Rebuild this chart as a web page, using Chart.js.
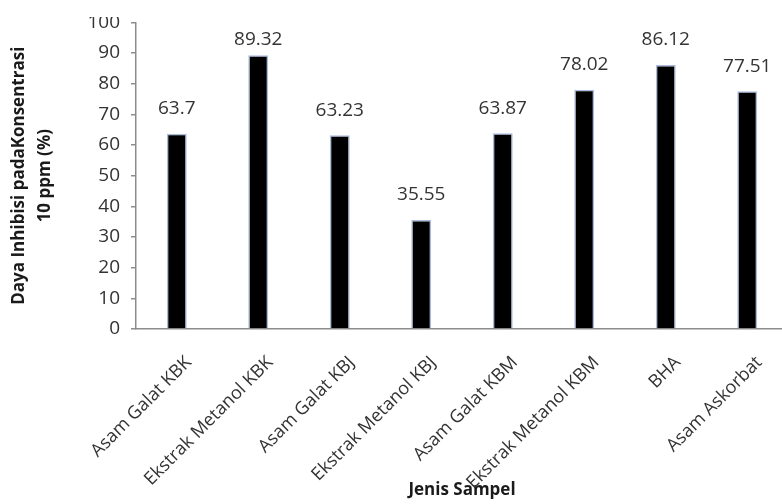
<!DOCTYPE html>
<html lang="id">
<head>
    <meta charset="UTF-8">
    <title>Daya Inhibisi pada Konsentrasi 10 ppm</title>
    <script src="https://cdn.jsdelivr.net/npm/chart.js@4.4.1/dist/chart.umd.min.js"></script>
    <style>
        html, body {
            margin: 0;
            padding: 0;
            background: #fff;
            overflow: hidden;
        }
        .chart-container {
            position: relative;
            width: 790px;
            height: 504px;
        }
    </style>
</head>
<body>
    <div class="chart-container">
        <canvas id="inhibisiChart"></canvas>
    </div>

    <script>
        // Data dari grafik
        const sampel = ['Asam Galat KBK', 'Ekstrak Metanol KBK', 'Asam Galat KBJ', 'Ekstrak Metanol KBJ',
                        'Asam Galat KBM', 'Ekstrak Metanol KBM', 'BHA', 'Asam Askorbat'];
        const dayaInhibisi = [63.7, 89.32, 63.23, 35.55, 63.87, 78.02, 86.12, 77.51];
        const labelNilai = ['63.7', '89.32', '63.23', '35.55', '63.87', '78.02', '86.12', '77.51'];

        const teks = '#333333';
        const garis = '#8c8c8c';

        // label nilai di atas batang
        const labelBatang = {
            id: 'labelBatang',
            afterDatasetsDraw(chart) {
                const ctx = chart.ctx;
                const meta = chart.getDatasetMeta(0);
                ctx.save();
                ctx.font = '19px "Open Sans"';
                ctx.fillStyle = teks;
                ctx.textAlign = 'center';
                ctx.textBaseline = 'middle';
                meta.data.forEach((bar, i) => {
                    const y = Math.max(bar.y - 25, chart.chartArea.top + 17);
                    ctx.fillText(labelNilai[i], bar.x, y);
                });
                ctx.restore();
            }
        };

        // potongan tepi atas seperti gambar asli
        const potongAtas = {
            id: 'potongAtas',
            afterDraw(chart) {
                const ctx = chart.ctx;
                ctx.save();
                ctx.fillStyle = '#fff';
                ctx.fillRect(0, 0, chart.width, 17);
                ctx.restore();
            }
        };

        const ctx = document.getElementById('inhibisiChart').getContext('2d');
        new Chart(ctx, {
            type: 'bar',
            data: {
                labels: sampel,
                datasets: [{
                    data: dayaInhibisi,
                    backgroundColor: '#000000',
                    borderColor: '#a9bcdc',
                    borderWidth: 1.5,
                    barPercentage: 0.245,
                    categoryPercentage: 1
                }]
            },
            options: {
                responsive: true,
                maintainAspectRatio: false,
                animation: false,
                layout: {
                    padding: { top: 19, right: 2, left: 0, bottom: 0 }
                },
                plugins: {
                    legend: { display: false },
                    tooltip: { enabled: false }
                },
                scales: {
                    x: {
                        afterFit(scale) { scale.height = 175; },
                        grid: { display: false },
                        border: { color: garis, width: 1.5 },
                        ticks: {
                            maxRotation: 45,
                            minRotation: 45,
                            padding: 15,
                            labelOffset: 12,
                            autoSkip: false,
                            color: teks,
                            font: { family: 'Open Sans', size: 18 }
                        },
                        title: {
                            display: true,
                            text: 'Jenis Sampel',
                            color: '#1a1a1a',
                            font: { family: 'Open Sans', size: 17, weight: 'bold' },
                            padding: { top: 0, bottom: 4 }
                        }
                    },
                    y: {
                        min: 0,
                        max: 100,
                        afterFit(scale) { scale.width = 136; },
                        grid: {
                            drawOnChartArea: false,
                            drawTicks: true,
                            tickLength: 5,
                            color: garis,
                            lineWidth: 1.5
                        },
                        border: { color: garis, width: 1.5 },
                        ticks: {
                            stepSize: 10,
                            padding: 11,
                            color: teks,
                            font: { family: 'Open Sans', size: 19 }
                        },
                        title: {
                            display: true,
                            text: ['Daya Inhibisi padaKonsentrasi', '10 ppm (%)'],
                            color: '#1a1a1a',
                            font: { family: 'Open Sans', size: 17, weight: 'bold', lineHeight: 1.55 },
                            padding: { top: 6, bottom: 0 }
                        }
                    }
                }
            },
            plugins: [labelBatang, potongAtas]
        });
    </script>
</body>
</html>
